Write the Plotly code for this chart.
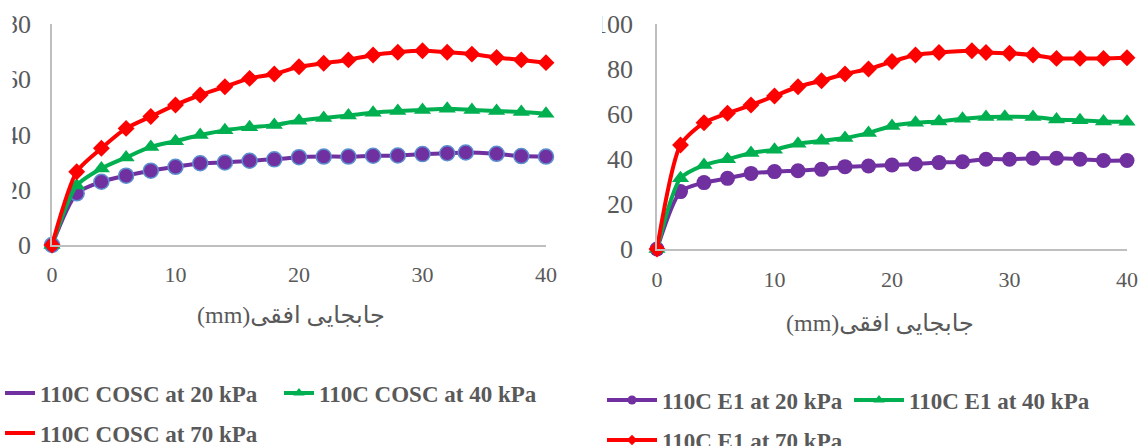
import plotly.graph_objects as go

# ---------------- data ----------------
# Left chart: 110C COSC
cosc20_x = [0, 2, 4, 6, 8, 10, 12, 14, 16, 18, 20, 22, 24, 26, 28, 30, 32, 33.5, 36, 38, 40]
cosc20_y = [0, 18.7, 22.9, 25.1, 26.9, 28.3, 29.6, 29.9, 30.5, 31.0, 31.8, 32.0, 32.0, 32.3, 32.4, 32.9, 33.2, 33.5, 33.0, 32.2, 32.0]
cosc40_x = [0, 2, 4, 6, 8, 10, 12, 14, 16, 18, 20, 22, 24, 26, 28, 30, 32, 34, 36, 38, 40]
cosc40_y = [0, 21.5, 27.7, 31.7, 35.5, 37.6, 39.8, 41.5, 42.6, 43.4, 45.0, 46.0, 46.9, 47.9, 48.5, 48.9, 49.3, 48.9, 48.5, 48.1, 47.5]
cosc70_x = [0, 2, 4, 6, 8, 10, 12, 14, 16, 18, 20, 22, 24, 26, 28, 30, 32, 34, 36, 38, 40]
cosc70_y = [0, 26.5, 35.0, 42.2, 46.5, 50.7, 54.3, 57.3, 60.3, 61.9, 64.5, 65.8, 67.0, 68.8, 69.8, 70.3, 69.8, 69.1, 67.9, 67.0, 66.0]

# Right chart: 110C E1
e120_x = [0, 2, 4, 6, 8, 10, 12, 14, 16, 18, 20, 22, 24, 26, 28, 30, 32, 34, 36, 38, 40]
e120_y = [0, 25.5, 29.5, 31.4, 33.6, 34.4, 34.8, 35.4, 36.6, 36.9, 37.3, 37.8, 38.4, 38.8, 39.9, 39.9, 40.3, 40.3, 39.9, 39.3, 39.3]
e140_x = [0, 2, 4, 6, 8, 10, 12, 14, 16, 18, 20, 22, 24, 26, 28, 29.6, 32, 34, 36, 38, 40]
e140_y = [0, 31.4, 37.3, 39.9, 42.7, 44.1, 46.8, 48.1, 49.3, 51.6, 54.7, 56.1, 56.7, 57.9, 58.7, 58.8, 58.7, 57.6, 57.2, 56.7, 56.6]
e170_x = [0, 2, 4, 6, 8, 10, 12, 14, 16, 18, 20, 22, 24, 26.8, 28, 30, 32, 34, 36, 38, 40]
e170_y = [0, 46.2, 56.1, 60.3, 64.0, 68.0, 72.1, 74.8, 77.8, 80.0, 83.3, 86.2, 87.3, 88.1, 87.3, 87.0, 86.2, 84.7, 84.7, 84.7, 85.0]

names_left = ["110C COSC at 20 kPa", "110C COSC at 40 kPa", "110C COSC at 70 kPa"]
names_right = ["110C E1 at 20 kPa", "110C E1 at 40 kPa", "110C E1 at 70 kPa"]
x_title = "\u202bجابجایی افقی(mm)\u202c"
x_ticks = [0, 10, 20, 30, 40]
y_ticks_left = [0, 20, 40, 60, 80]
y_ticks_right = [0, 20, 40, 60, 80, 100]

# ---------------- styles ----------------
PURPLE = "#7030A0"
GREEN = "#00B050"
RED = "#FF0000"
OUTLINE = "#5B8FD0"
GREY_TXT = "#595959"
AXIS = "#BFBFBF"
SERIF = "Liberation Serif, Times New Roman, DejaVu Sans, serif"
LW = 4
SPL = 0.7

W, H = 1141, 446

fig = go.Figure()

def series(x, y, color, symbol, size, xa, ya, outline=None):
    return go.Scatter(
        x=x, y=y, mode="lines+markers", xaxis=xa, yaxis=ya,
        line=dict(color=color, width=LW, shape="spline", smoothing=SPL),
        marker=dict(symbol=symbol, size=size, color=color,
                    line=dict(color=outline if outline else color, width=1.5 if outline else 0)),
        cliponaxis=False, showlegend=False, hoverinfo="x+y",
    )

# left chart
fig.add_trace(series(cosc20_x, cosc20_y, PURPLE, "circle", 15, "x", "y", OUTLINE))
fig.add_trace(series(cosc40_x, cosc40_y, GREEN, "triangle-up", 15, "x", "y"))
fig.add_trace(series(cosc70_x, cosc70_y, RED, "diamond", 13, "x", "y"))
# right chart
fig.add_trace(series(e120_x, e120_y, PURPLE, "circle", 15, "x2", "y2"))
fig.add_trace(series(e140_x, e140_y, GREEN, "triangle-up", 15, "x2", "y2"))
fig.add_trace(series(e170_x, e170_y, RED, "diamond", 13, "x2", "y2"))

# legend entries
def leg(name, color, mode, symbol, size, legend):
    return go.Scatter(
        x=[None], y=[None], name=name, mode=mode, legend=legend,
        line=dict(color=color, width=LW),
        marker=dict(symbol=symbol, size=size, color=color),
        xaxis="x", yaxis="y", showlegend=True, hoverinfo="skip",
    )

fig.add_trace(leg(names_left[0], PURPLE, "lines", "circle", 9, "legend"))
fig.add_trace(leg(names_left[1], GREEN, "lines+markers", "triangle-up", 10, "legend"))
fig.add_trace(leg(names_left[2], RED, "lines", "diamond", 9, "legend2"))
fig.add_trace(leg(names_right[0], PURPLE, "lines+markers", "circle", 9, "legend3"))
fig.add_trace(leg(names_right[1], GREEN, "lines+markers", "triangle-up", 10, "legend3"))
fig.add_trace(leg(names_right[2], RED, "lines+markers", "diamond", 8, "legend4"))

def px_x(p):
    return p / W

def px_y(p):
    return 1 - p / H

def axis_style(size):
    return dict(showgrid=False, zeroline=False, showline=True, linecolor=AXIS,
                linewidth=1.5, ticks="", automargin=False,
                tickfont=dict(family=SERIF, color=GREY_TXT, size=size))

leg_font = dict(family=SERIF, size=23, color=GREY_TXT, weight="bold")
leg_common = dict(orientation="h", bgcolor="rgba(0,0,0,0)", font=leg_font,
                  xanchor="left", yanchor="middle", borderwidth=0, tracegroupgap=0)

# white masks reproducing the clipped chart-area edges of the original
masks = [
    dict(type="rect", xref="paper", yref="paper", x0=-0.01, x1=px_x(12.5),
         y0=px_y(265), y1=1.01, fillcolor="white", line=dict(width=0), layer="above"),
    dict(type="rect", xref="paper", yref="paper", x0=px_x(575), x1=px_x(602),
         y0=px_y(265), y1=1.01, fillcolor="white", line=dict(width=0), layer="above"),
]

fig.update_layout(
    template="plotly_white",
    width=W, height=H,
    margin=dict(l=0, r=0, t=0, b=0, autoexpand=False),
    paper_bgcolor="white", plot_bgcolor="white",
    xaxis=dict(domain=[px_x(52), px_x(546)], range=[0, 40], tickvals=x_ticks,
               anchor="y", ticklabelstandoff=9, **axis_style(22)),
    yaxis=dict(domain=[px_y(245), px_y(24)], range=[0, 80], tickvals=y_ticks_left,
               anchor="x", ticklabelstandoff=14, **axis_style(26)),
    xaxis2=dict(domain=[px_x(657), px_x(1127)], range=[0, 40], tickvals=x_ticks,
                anchor="y2", ticklabelstandoff=10, **axis_style(22)),
    yaxis2=dict(domain=[px_y(249), px_y(24)], range=[0, 100], tickvals=y_ticks_right,
                anchor="x2", ticklabelstandoff=17, **axis_style(26)),
    legend=dict(x=px_x(0), y=px_y(393), itemwidth=30, entrywidth=234, **leg_common),
    legend2=dict(x=px_x(0), y=px_y(433), itemwidth=30, entrywidth=234, **leg_common),
    legend3=dict(x=px_x(602), y=px_y(400), itemwidth=50, entrywidth=182, **leg_common),
    legend4=dict(x=px_x(602), y=px_y(440), itemwidth=50, entrywidth=182, **leg_common),
    shapes=masks,
    annotations=[
        dict(text=x_title, xref="paper", yref="paper", x=px_x(291), y=px_y(315),
             xanchor="center", yanchor="middle", showarrow=False,
             font=dict(family=SERIF, size=24, color=GREY_TXT)),
        dict(text=x_title, xref="paper", yref="paper", x=px_x(880), y=px_y(323),
             xanchor="center", yanchor="middle", showarrow=False,
             font=dict(family=SERIF, size=24, color=GREY_TXT)),
    ],
)

fig.write_html(
    "out.html",
    config={"displayModeBar": False},
    post_script="document.body.style.margin='0';document.body.style.overflow='hidden';",
)
